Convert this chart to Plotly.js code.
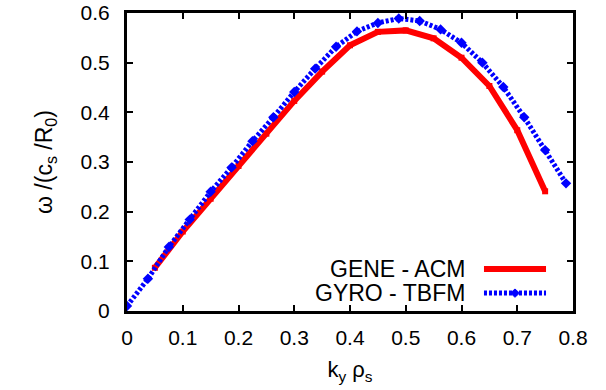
<!DOCTYPE html>
<html>
<head>
<meta charset="utf-8">
<script src="https://cdn.plot.ly/plotly-3.0.1.min.js"></script>
<style>html,body{margin:0;padding:0;background:#fff;}#chart{width:606px;height:390px;}</style>
</head>
<body>
<div id="chart"></div>
<script>
// GENE - ACM
const geneKy = [0.05, 0.10, 0.15, 0.20, 0.25, 0.30, 0.35, 0.40, 0.45, 0.50, 0.55, 0.60, 0.65, 0.70, 0.75];
const geneOmega = [0.087, 0.160, 0.226, 0.292, 0.357, 0.423, 0.482, 0.535, 0.562, 0.565, 0.549, 0.510, 0.453, 0.364, 0.241];
// GYRO - TBFM
const gyroKy = [0.0, 0.0375, 0.075, 0.1125, 0.15, 0.1875, 0.225, 0.2625, 0.3, 0.3375, 0.375, 0.4125, 0.45, 0.4875, 0.525, 0.5625, 0.6, 0.6375, 0.675, 0.7125, 0.75, 0.7875];
const gyroOmega = [0.010, 0.065, 0.129, 0.184, 0.240, 0.289, 0.342, 0.390, 0.441, 0.488, 0.532, 0.563, 0.580, 0.589, 0.584, 0.567, 0.540, 0.500, 0.451, 0.390, 0.324, 0.257];
const seriesNames = ["GENE - ACM", "GYRO - TBFM"];
const xTicks = [0, 0.1, 0.2, 0.3, 0.4, 0.5, 0.6, 0.7, 0.8];
const yTicks = [0, 0.1, 0.2, 0.3, 0.4, 0.5, 0.6];

const font = "Liberation Sans, Arial, Helvetica, sans-serif";
const red = "#ff0000", blue = "#0000ff";

const traces = [
  {x: geneKy, y: geneOmega, name: seriesNames[0], mode: "lines+markers",
   line: {color: red, width: 6}, marker: {symbol: "square", size: 6, color: red}, cliponaxis: true},
  {x: gyroKy, y: gyroOmega, name: seriesNames[1], mode: "lines+markers",
   line: {color: blue, width: 5, dash: "3px,2px"}, marker: {symbol: "diamond", size: 8, color: blue}, cliponaxis: true}
];

const lx0 = 0.8004, lx1 = 0.9395, ly = [0.141, 0.060];
const layout = {
  width: 606, height: 390,
  margin: {l: 127, r: 33, t: 13, b: 79},
  paper_bgcolor: "#fff", plot_bgcolor: "#fff",
  showlegend: false,
  font: {family: font, size: 21, color: "#000"},
  xaxis: {range: [0, 0.8], tickvals: xTicks, ticktext: xTicks.map(String),
    ticks: "inside", ticklen: 6, tickwidth: 2, tickcolor: "#000",
    showline: true, linewidth: 3, linecolor: "#000", mirror: "allticks",
    showgrid: false, zeroline: false, ticklabelstandoff: 6,
    title: {text: "k<sub>y</sub> ρ<sub>s</sub>", font: {size: 22}, standoff: 14}},
  yaxis: {range: [0, 0.6], tickvals: yTicks, ticktext: yTicks.map(String),
    ticks: "inside", ticklen: 6, tickwidth: 2, tickcolor: "#000",
    showline: true, linewidth: 3, linecolor: "#000", mirror: "allticks",
    showgrid: false, zeroline: false, ticklabelstandoff: 10,
    title: {text: "ω /(c<sub>s</sub> /R<sub>0</sub>)", font: {size: 23}, standoff: 22}},
  annotations: seriesNames.map((n, i) => ({xref: "paper", yref: "paper", x: 0.762, y: ly[i],
    xanchor: "right", yanchor: "middle", text: n, showarrow: false, font: {size: 23}})),
  shapes: [
    {type: "line", xref: "paper", yref: "paper", x0: lx0, x1: lx1, y0: ly[0], y1: ly[0], line: {color: red, width: 6}},
    {type: "line", xref: "paper", yref: "paper", x0: lx0, x1: lx1, y0: ly[1], y1: ly[1], line: {color: blue, width: 5, dash: "3px,2px"}},
    {type: "path", xref: "paper", yref: "paper",
     path: `M ${(lx0+lx1)/2-0.01},${ly[1]} L ${(lx0+lx1)/2},${ly[1]+0.014} L ${(lx0+lx1)/2+0.01},${ly[1]} L ${(lx0+lx1)/2},${ly[1]-0.014} Z`,
     fillcolor: blue, line: {color: blue, width: 1}}
  ]
};
Plotly.newPlot("chart", traces, layout, {staticPlot: true, displayModeBar: false});
</script>
</body>
</html>
